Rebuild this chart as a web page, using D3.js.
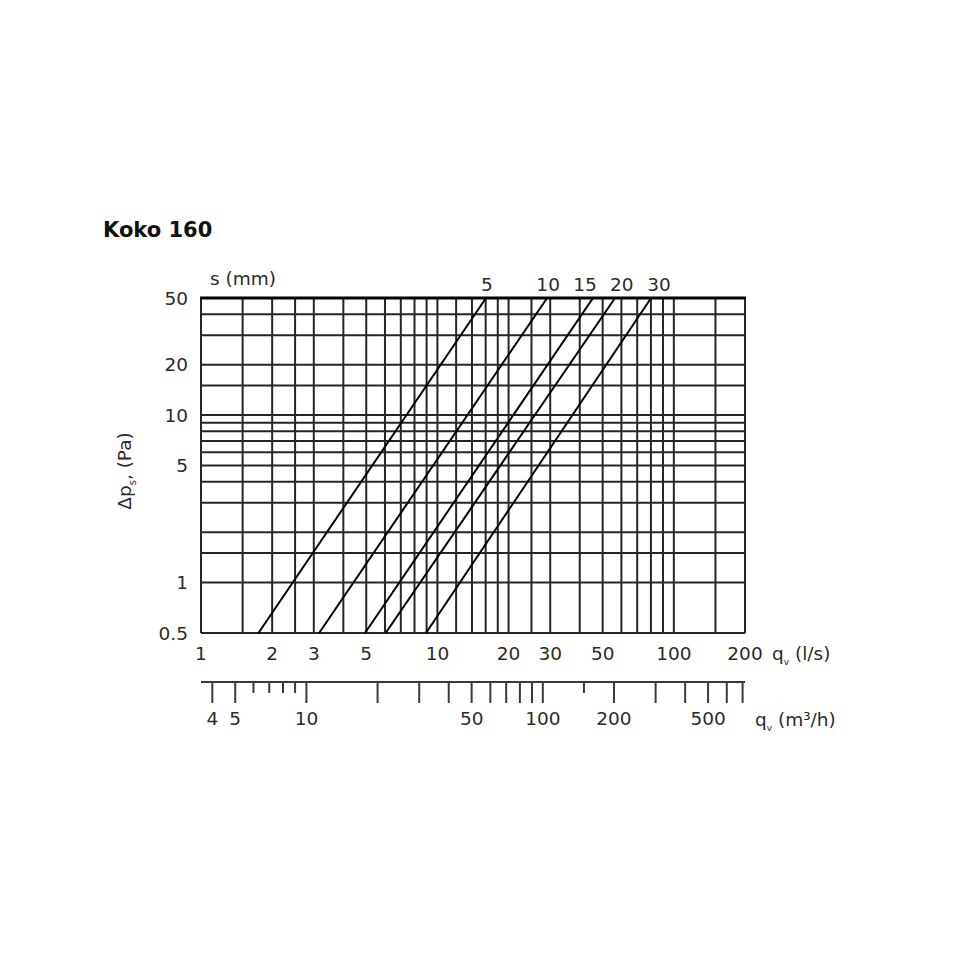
<!DOCTYPE html>
<html>
<head>
<meta charset="utf-8">
<script src="https://cdn.jsdelivr.net/npm/d3@7"></script>
<style>
  body { margin: 0; background: #fff; }
  text { font-family: 'DejaVu Sans', sans-serif; fill: #2b2b2b; }
  .axis path, .axis line { stroke: #3a3a3a; stroke-width: 2; }
  .axis text { font-size: 18.5px; }
</style>
</head>
<body>
<div class="chart"></div>
<script>
// flow in l/s (lower axis in m3/h), pressure drop in Pa
const qTicks = [1, 2, 3, 5, 10, 20, 30, 50, 100, 200];
const pTicks = [0.5, 1, 5, 10, 20, 50];
const qGrid = [1, 1.5, 2, 2.5, 3, 4, 5, 6, 7, 8, 9, 10, 12, 14, 16, 18, 20, 25, 30, 40, 50, 60, 70, 80, 90, 100, 150, 200];
const pGrid = [0.5, 1, 1.5, 2, 3, 4, 5, 6, 7, 8, 9, 10, 15, 20, 30, 40, 50];

// damper opening s (mm): flow at 0.5 Pa and at 50 Pa
const sValues = ['5', '10', '15', '20', '30'];
const qAtLowP = [1.75, 3.16, 4.94, 6.04, 8.95];
const qAtHighP = [16.05, 29.1, 45.5, 56.4, 80.1];
const sLabelQ = [16.2, 29.4, 42.1, 60.2, 86.6];

const m3hMajor = [4, 5, 10, 20, 30, 40, 50, 60, 70, 80, 90, 100, 200, 300, 400, 500, 600, 700];
const m3hMinor = [6, 7, 8, 9, 150];
const m3hLabels = [4, 5, 10, 50, 100, 200, 500];

const width = 958;
const height = 958;
const plot = { left: 201, right: 745, top: 298, bottom: 633 };
const fs = '18.5px';

const svg = d3
  .select('.chart')
  .append('svg')
  .attr('width', width)
  .attr('height', height);

const xScale = d3.scaleLog().domain([1, 200]).range([plot.left, plot.right]);
const yScale = d3.scaleLog().domain([0.5, 50]).range([plot.bottom, plot.top]);
const mScale = d3.scaleLog().domain([3.6, 720]).range([plot.left, plot.right]);

// title
svg.append('text')
  .attr('x', 103)
  .attr('y', 237)
  .attr('font-size', '21px')
  .attr('font-weight', 'bold')
  .style('fill', '#111')
  .text('Koko 160');

// grid
const grid = svg.append('g').attr('stroke', '#262626').attr('stroke-width', 2);
grid.selectAll('.vline')
  .data(qGrid)
  .join('line')
  .attr('class', 'vline')
  .attr('x1', (d) => xScale(d))
  .attr('x2', (d) => xScale(d))
  .attr('y1', plot.top)
  .attr('y2', plot.bottom);
grid.selectAll('.hline')
  .data(pGrid)
  .join('line')
  .attr('class', 'hline')
  .attr('x1', plot.left)
  .attr('x2', plot.right)
  .attr('y1', (d) => yScale(d))
  .attr('y2', (d) => yScale(d));

// heavy top border
svg.append('line')
  .attr('x1', plot.left - 1)
  .attr('x2', plot.right + 1)
  .attr('y1', yScale(50))
  .attr('y2', yScale(50))
  .attr('stroke', '#000')
  .attr('stroke-width', 3);

// s curves
const line = d3.line().x((d) => xScale(d[0])).y((d) => yScale(d[1]));
svg.append('g')
  .selectAll('path')
  .data(sValues.map((s, i) => [[qAtLowP[i], 0.5], [qAtHighP[i], 50]]))
  .join('path')
  .attr('d', line)
  .attr('fill', 'none')
  .attr('stroke', '#000')
  .attr('stroke-width', 2);

svg.append('g')
  .selectAll('text')
  .data(sValues)
  .join('text')
  .attr('x', (d, i) => xScale(sLabelQ[i]))
  .attr('y', 291)
  .attr('text-anchor', 'middle')
  .attr('font-size', fs)
  .text((d) => d);

svg.append('text')
  .attr('x', 210)
  .attr('y', 285)
  .attr('font-size', fs)
  .text('s (mm)');

// y tick labels
svg.append('g')
  .selectAll('text')
  .data(pTicks)
  .join('text')
  .attr('x', 188)
  .attr('y', (d) => yScale(d))
  .attr('dy', '0.36em')
  .attr('text-anchor', 'end')
  .attr('font-size', fs)
  .text((d) => d);

// y title
const yTitle = svg.append('text')
  .attr('transform', 'translate(131,471) rotate(-90)')
  .attr('text-anchor', 'middle')
  .attr('font-size', fs);
yTitle.append('tspan').text('\u0394p');
yTitle.append('tspan').attr('font-size', '10px').attr('dy', 5).text('s');
yTitle.append('tspan').attr('dy', -5).text(', (Pa)');

// x tick labels (l/s)
svg.append('g')
  .selectAll('text')
  .data(qTicks)
  .join('text')
  .attr('x', (d) => xScale(d))
  .attr('y', 660)
  .attr('text-anchor', 'middle')
  .attr('font-size', fs)
  .text((d) => d);

const qTitle = svg.append('text').attr('x', 772).attr('y', 660).attr('font-size', fs);
qTitle.append('tspan').text('q');
qTitle.append('tspan').attr('font-size', '9px').attr('dy', 5).text('v');
qTitle.append('tspan').attr('dy', -5).text(' (l/s)');

// lower axis in m3/h
const mAxisMajor = d3.axisBottom(mScale)
  .tickValues(m3hMajor)
  .tickSize(21)
  .tickSizeOuter(0)
  .tickFormat((d) => (m3hLabels.includes(d) ? d : ''));
const mAxisG = svg.append('g')
  .attr('class', 'axis')
  .attr('transform', 'translate(0,682)')
  .call(mAxisMajor);
mAxisG.select('.domain').attr('d', `M${plot.left},0H${plot.right}`);
mAxisG.selectAll('.tick text').attr('y', 30).attr('dy', '0.71em').style('fill', '#2b2b2b');

svg.append('g')
  .attr('transform', 'translate(0,682)')
  .selectAll('line')
  .data(m3hMinor)
  .join('line')
  .attr('x1', (d) => mScale(d))
  .attr('x2', (d) => mScale(d))
  .attr('y1', 0)
  .attr('y2', 11)
  .attr('stroke', '#3a3a3a')
  .attr('stroke-width', 2);

const mTitle = svg.append('text').attr('x', 755).attr('y', 726).attr('font-size', fs);
mTitle.append('tspan').text('q');
mTitle.append('tspan').attr('font-size', '9px').attr('dy', 5).text('v');
mTitle.append('tspan').attr('dy', -5).text(' (m\u00b3/h)');
</script>
</body>
</html>
